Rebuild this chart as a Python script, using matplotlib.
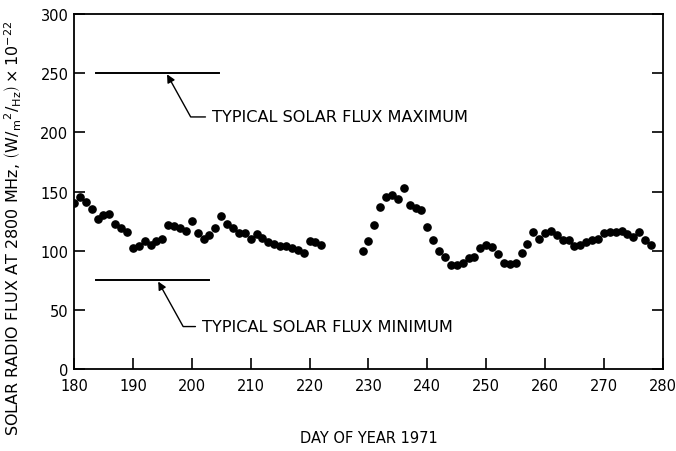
import matplotlib
matplotlib.use("Agg")
import matplotlib.pyplot as plt

# daily 2800 MHz flux, 1971
days_a = list(range(180, 223))
flux_a = [140, 145, 141, 135, 127, 130, 131, 123, 119, 116,
          102, 104, 108, 105, 108, 110, 122, 121, 119, 117,
          125, 115, 110, 113, 119, 129, 123, 119, 115, 115,
          110, 114, 111, 107, 106, 104, 104, 102, 101, 98,
          108, 107, 105]
days_b = list(range(229, 279))
flux_b = [100, 108, 122, 137, 145, 147, 144, 153, 139, 136,
          134, 120, 109, 100, 95, 88, 88, 90, 94, 95,
          102, 105, 103, 97, 90, 89, 90, 98, 106, 116,
          110, 115, 117, 113, 109, 109, 104, 105, 107, 109,
          110, 115, 116, 116, 117, 114, 112, 116, 109, 105]

typ_max = 250
typ_max_days = [183.8, 204.7]
typ_min = 75
typ_min_days = [183.8, 203.0]

xticks = list(range(180, 281, 10))
yticks = list(range(0, 301, 50))

plt.rcParams['font.family'] = ['DejaVu Sans']

fig = plt.figure(figsize=(6.76, 4.52), dpi=100)
ax = fig.add_axes([0.1095, 0.181, 0.871, 0.786])

ax.plot(days_a + days_b, flux_a + flux_b, "ko", markersize=5.2)
ax.plot(typ_max_days, [typ_max, typ_max], "k-", lw=1.4)
ax.plot(typ_min_days, [typ_min, typ_min], "k-", lw=1.4)

arrow = dict(arrowstyle="-|>", color="k", lw=1.0, mutation_scale=12,
             shrinkA=3, shrinkB=0,
             connectionstyle="angle,angleA=0,angleB=-61,rad=0")
ax.annotate("TYPICAL SOLAR FLUX MAXIMUM", xy=(195.8, typ_max - 1),
            xytext=(203.5, 213), ha="left", va="center", fontsize=11.6,
            arrowprops=arrow)
ax.annotate("TYPICAL SOLAR FLUX MINIMUM", xy=(194.3, typ_min - 1),
            xytext=(201.8, 36), ha="left", va="center", fontsize=11.6,
            arrowprops=arrow)

ax.set_xlim(180, 280)
ax.set_ylim(0, 300)
ax.set_xticks(xticks)
ax.set_yticks(yticks)
ax.tick_params(direction="in", length=8, width=1.2, labelsize=10.5,
               right=True)
ax.tick_params(axis="x", pad=6)
ax.tick_params(axis="y", pad=4)
for s in ax.spines.values():
    s.set_linewidth(1.3)

ax.set_xlabel("DAY OF YEAR 1971", fontsize=10.5, labelpad=27)
ax.set_ylabel(r"SOLAR RADIO FLUX AT 2800 MHz, $\left(\mathregular{W/_{m}{}^{2}/_{Hz}}\right)\times\mathregular{10^{-22}}$",
              fontsize=11.5)
ax.yaxis.set_label_coords(-0.085, 0.40)

fig.savefig("out.png", dpi=100)
